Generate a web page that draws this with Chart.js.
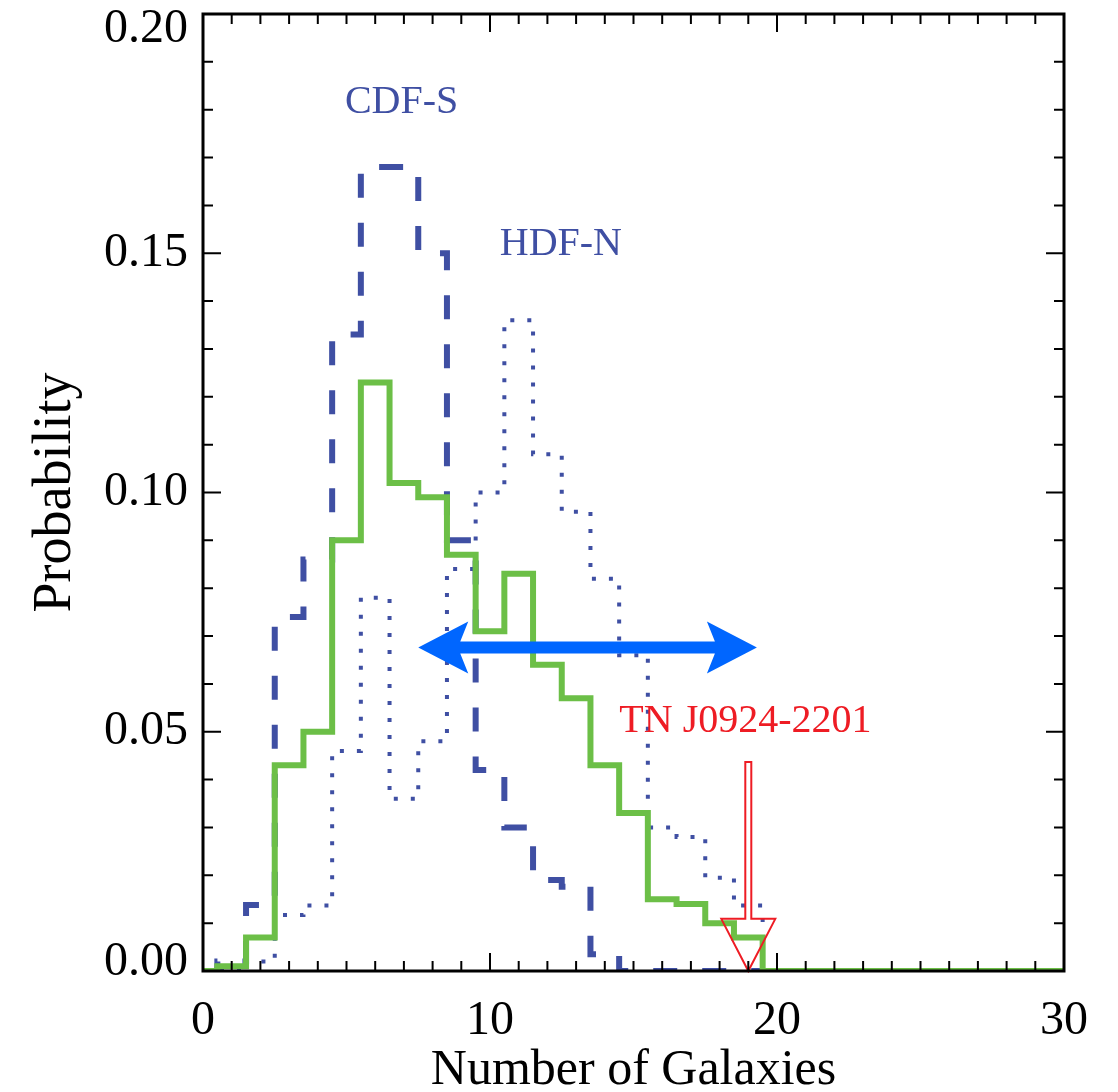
<!DOCTYPE html>
<html>
<head>
<meta charset="utf-8">
<style>
  html, body { margin: 0; padding: 0; background: #fff; }
  #histChart { display: block; }
</style>
</head>
<body>
<canvas id="histChart" width="1118" height="1092"></canvas>

<script src="https://cdn.jsdelivr.net/npm/chart.js"></script>

<script>

// bin centres (number of galaxies), bins are 1 wide
const nGal = [0, 1, 2, 3, 4, 5, 6, 7, 8, 9, 10, 11, 12, 13, 14, 15,
              16, 17, 18, 19, 20, 21, 22, 23, 24, 25, 26, 27, 28, 29, 30];

// solid green histogram
const allFields = [0, 0.001, 0.007, 0.043, 0.050, 0.090, 0.123, 0.102, 0.099, 0.087,
                   0.071, 0.083, 0.064, 0.057, 0.043, 0.033, 0.015, 0.014, 0.010, 0.007,
                   0, 0, 0, 0, 0, 0, 0, 0, 0, 0, 0];

// dashed, CDF-S
const cdfs = [0, 0.002, 0.0138, 0.074, 0.086, 0.133, 0.168, 0.168, 0.150, 0.090,
              0.042, 0.030, 0.019, 0.0176, 0.0035, 0, 0, 0, 0, 0,
              0, 0, 0, 0, 0, 0, 0, 0, 0, 0, 0];

// dotted, HDF-N
const hdfn = [0, 0, 0.002, 0.0117, 0.0137, 0.046, 0.078, 0.036, 0.048, 0.084,
              0.100, 0.136, 0.108, 0.096, 0.082, 0.066, 0.030, 0.028, 0.0195, 0.0137,
              0, 0, 0, 0, 0, 0, 0, 0, 0, 0, 0];

const yTickValues = [0, 0.05, 0.10, 0.15, 0.20];

// annotations, in data units
const rangeArrow = { from: 7.5, to: 19.3, y: 0.0676 };
const target = { name: 'TN J0924-2201', x: 19, shaftTop: 0.0437, headBase: 0.0109 };
const fieldLabels = [
    { text: 'CDF-S', x: 6.92, y: 0.1793, color: '#3f4fa3' },
    { text: 'HDF-N', x: 12.47, y: 0.1496, color: '#3f4fa3' },
    { text: target.name, x: 18.9, y: 0.0500, color: '#ee1c24' }
];

const serif = '"Liberation Serif", "Times New Roman", serif';

function toPoints(values) {
    return nGal.map((n, i) => ({ x: n, y: values[i] }));
}

const annotations = {

    id: 'annotations',

    afterDatasetsDraw(chart) {

        const { ctx, scales: { x, y } } = chart;

        ctx.save();

        // blue double-headed arrow
        const x1 = x.getPixelForValue(rangeArrow.from);
        const x2 = x.getPixelForValue(rangeArrow.to);
        const py = y.getPixelForValue(rangeArrow.y);
        const head = 50, half = 26, notch = 42, shaft = 6;

        ctx.fillStyle = '#0066ff';
        ctx.beginPath();
        ctx.moveTo(x1, py);
        ctx.lineTo(x1 + head, py - half);
        ctx.lineTo(x1 + notch, py - shaft);
        ctx.lineTo(x2 - notch, py - shaft);
        ctx.lineTo(x2 - head, py - half);
        ctx.lineTo(x2, py);
        ctx.lineTo(x2 - head, py + half);
        ctx.lineTo(x2 - notch, py + shaft);
        ctx.lineTo(x1 + notch, py + shaft);
        ctx.lineTo(x1 + head, py + half);
        ctx.closePath();
        ctx.fill();

        // hollow red arrow pointing at the target
        const ax = x.getPixelForValue(target.x);
        const top = y.getPixelForValue(target.shaftTop);
        const base = y.getPixelForValue(target.headBase);
        const tip = y.getPixelForValue(0);

        ctx.strokeStyle = '#ee1c24';
        ctx.lineWidth = 2;
        ctx.beginPath();
        ctx.moveTo(ax - 3, top);
        ctx.lineTo(ax + 3, top);
        ctx.lineTo(ax + 3, base);
        ctx.lineTo(ax + 27, base);
        ctx.lineTo(ax, tip);
        ctx.lineTo(ax - 27, base);
        ctx.lineTo(ax - 3, base);
        ctx.closePath();
        ctx.stroke();

        // text labels
        ctx.font = '40px ' + serif;
        ctx.textAlign = 'center';
        ctx.textBaseline = 'alphabetic';
        fieldLabels.forEach(l => {
            ctx.fillStyle = l.color;
            ctx.fillText(l.text, x.getPixelForValue(l.x), y.getPixelForValue(l.y));
        });

        ctx.restore();
    },

    afterDraw(chart) {

        const { ctx, chartArea: a, scales: { x, y } } = chart;

        ctx.save();
        ctx.strokeStyle = '#000';
        ctx.lineWidth = 2;

        // inward ticks on all four sides
        ctx.beginPath();
        for (let v = x.min; v <= x.max; v++) {
            const px = x.getPixelForValue(v);
            const len = v % 10 === 0 ? 18 : 10;
            ctx.moveTo(px, a.bottom);
            ctx.lineTo(px, a.bottom - len);
            ctx.moveTo(px, a.top);
            ctx.lineTo(px, a.top + len);
        }
        for (let i = 0; i <= 20; i++) {
            const py = y.getPixelForValue(i / 100);
            const len = i % 5 === 0 ? 18 : 10;
            ctx.moveTo(a.left, py);
            ctx.lineTo(a.left + len, py);
            ctx.moveTo(a.right, py);
            ctx.lineTo(a.right - len, py);
        }
        ctx.stroke();

        ctx.lineWidth = 3;
        ctx.strokeRect(a.left, a.top, a.right - a.left, a.bottom - a.top);

        // y tick labels, pulled inside at the ends like the original
        ctx.fillStyle = '#000';
        ctx.font = '48px ' + serif;
        ctx.textAlign = 'right';
        ctx.textBaseline = 'middle';
        yTickValues.forEach(v => {
            let py = y.getPixelForValue(v);
            py = Math.min(Math.max(py, a.top + 15), a.bottom - 9);
            ctx.fillText(v.toFixed(2), a.left - 15, py);
        });

        ctx.restore();
    }
};

new Chart(document.getElementById('histChart'), {

    type: 'line',

    data: {

        datasets: [

            {
                label: 'All',
                data: toPoints(allFields),
                borderColor: '#6cbf47',
                borderWidth: 6,
                stepped: 'middle'
            },

            {
                label: 'CDF-S',
                data: toPoints(cdfs),
                borderColor: '#3f4fa3',
                borderWidth: 6,
                borderDash: [24, 25],
                stepped: 'middle'
            },

            {
                label: 'HDF-N',
                data: toPoints(hdfn),
                borderColor: '#3f4fa3',
                borderWidth: 4,
                borderDash: [4, 13],
                stepped: 'middle'
            }

        ]

    },

    options: {

        responsive: false,
        animation: false,

        elements: {
            point: { radius: 0 },
            line: { fill: false, borderCapStyle: 'butt', borderJoinStyle: 'miter' }
        },

        layout: {
            padding: { top: 14, right: 54, left: 0, bottom: 0 }
        },

        plugins: {
            legend: { display: false },
            tooltip: { enabled: false }
        },

        scales: {

            x: {
                type: 'linear',
                min: 0,
                max: 30,
                grid: { display: false, drawTicks: false },
                border: { display: false },
                ticks: {
                    stepSize: 10,
                    padding: 22,
                    maxRotation: 0,
                    color: '#000',
                    font: { family: serif, size: 48 }
                },
                title: {
                    display: true,
                    text: 'Number of Galaxies',
                    color: '#000',
                    font: { family: serif, size: 50, lineHeight: 1 },
                    padding: { top: 0, bottom: -4 }
                },
                afterFit(scale) { scale.height = 121; }
            },

            y: {
                type: 'linear',
                min: 0,
                max: 0.2,
                grid: { display: false, drawTicks: false },
                border: { display: false },
                ticks: { display: false, stepSize: 0.05 },
                title: {
                    display: true,
                    text: 'Probability',
                    color: '#000',
                    font: { family: serif, size: 54, lineHeight: 1 },
                    padding: { top: 29, bottom: 0 }
                },
                afterFit(scale) { scale.width = 203; }
            }

        }

    },

    plugins: [annotations]

});

</script>
</body>
</html>
